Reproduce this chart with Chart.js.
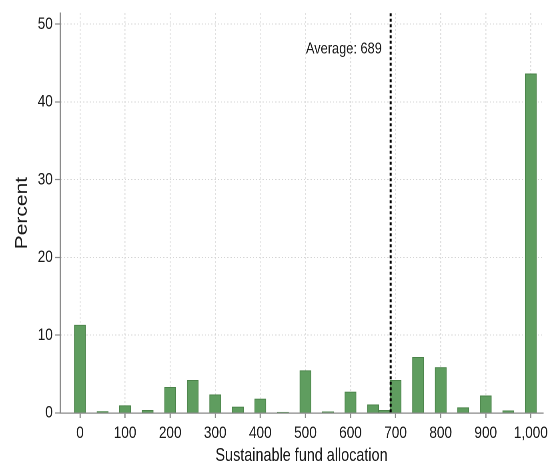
<!DOCTYPE html>
<html><head><meta charset="utf-8">
<script src="https://cdn.jsdelivr.net/npm/chart.js@4.4.0/dist/chart.umd.min.js"></script>
<style>
html,body{margin:0;padding:0;background:#fff;overflow:hidden;width:553px;height:465px;}
#wrap{width:691px;height:465px;transform:scaleX(0.80029);transform-origin:0 0;}
canvas{display:block;}
</style></head><body>
<div id="wrap"><canvas id="c" width="691" height="465"></canvas></div>
<script>
// Data
const allocations = [0, 50, 100, 150, 200, 250, 300, 350, 400, 450, 500, 550, 600, 650, 675, 700, 750, 800, 850, 900, 950, 1000];
const percents    = [11.3, 0.2, 0.95, 0.35, 3.3, 4.2, 2.35, 0.77, 1.8, 0.1, 5.45, 0.15, 2.7, 1.07, 0.35, 4.2, 7.15, 5.85, 0.7, 2.2, 0.3, 43.6];
const xTicks = [0, 100, 200, 300, 400, 500, 600, 700, 800, 900, 1000];
const yTicks = [0, 10, 20, 30, 40, 50];
const averageAllocation = 689;
const averageLabel = 'Average: 689';
const avgLabelLevel = 46.8;

const FONT = "'Liberation Sans', Arial, Helvetica, sans-serif";
const TXT = '#1a1a1a';
const AXIS = '#8a8a8a';
const GRID = '#d4d4d4';

const avgPlugin = {
  id: 'avgLine',
  afterDatasetsDraw(chart) {
    const {ctx, chartArea, scales} = chart;
    const x = scales.x.getPixelForValue(averageAllocation);
    ctx.save();
    ctx.strokeStyle = '#000';
    ctx.lineWidth = 2.5;
    ctx.setLineDash([3, 2.5]);
    ctx.beginPath();
    ctx.moveTo(x, chartArea.top);
    ctx.lineTo(x, chartArea.bottom);
    ctx.stroke();
    ctx.setLineDash([]);
    ctx.fillStyle = TXT;
    ctx.font = "16px " + FONT;
    ctx.textAlign = 'right';
    ctx.textBaseline = 'middle';
    ctx.fillText(averageLabel, x - 11, scales.y.getPixelForValue(avgLabelLevel));
    ctx.restore();
  }
};

new Chart(document.getElementById('c'), {
  type: 'bar',
  data: {
    datasets: [{
      data: allocations.map((a, i) => ({x: a, y: percents[i]})),
      backgroundColor: '#5f9d5f',
      borderColor: '#4a8349',
      borderWidth: 1,
      barPercentage: 1,
      categoryPercentage: 1
    }]
  },
  options: {
    responsive: false,
    animation: false,
    devicePixelRatio: 2,
    layout: {padding: {top: 12, right: 12.5, bottom: 0, left: 0}},
    plugins: {legend: {display: false}, tooltip: {enabled: false}},
    scales: {
      x: {
        type: 'linear',
        offset: false,
        min: -44.3,
        max: 1027,
        afterBuildTicks: s => { s.ticks = xTicks.map(v => ({value: v})); },
        afterFit: s => { s.height = 52; s.paddingLeft = 0; s.paddingRight = 0; },
        ticks: {
          autoSkip: false, maxRotation: 0, padding: 5,
          font: {family: FONT, size: 17}, color: TXT,
          callback: v => Number(v).toLocaleString('en-US')
        },
        grid: {offset: false, color: GRID, lineWidth: 1.25, drawTicks: true, tickLength: 5, tickColor: AXIS, tickWidth: 1.5, tickBorderDash: []},
        border: {display: true, color: AXIS, width: 1.2, dash: [1.5, 2.5]},
        title: {display: true, text: 'Sustainable fund allocation', color: TXT,
                font: {family: FONT, size: 18, lineHeight: 1}, padding: {top: 0, bottom: 0}}
      },
      y: {
        min: 0,
        max: 51.4,
        afterBuildTicks: s => { s.ticks = yTicks.map(v => ({value: v})); },
        afterFit: s => { s.width = 75; },
        ticks: {padding: 3, font: {family: FONT, size: 17}, color: TXT},
        grid: {color: GRID, lineWidth: 1, drawTicks: true, tickLength: 6, tickColor: AXIS, tickWidth: 1.2, tickBorderDash: []},
        border: {display: true, color: AXIS, width: 1.5, dash: [1.5, 2.5]},
        title: {display: true, text: 'Percent', color: TXT,
                font: {family: FONT, size: 21}, padding: {top: 15, bottom: 0}}
      }
    }
  },
  plugins: [avgPlugin]
});
</script>
</body></html>
